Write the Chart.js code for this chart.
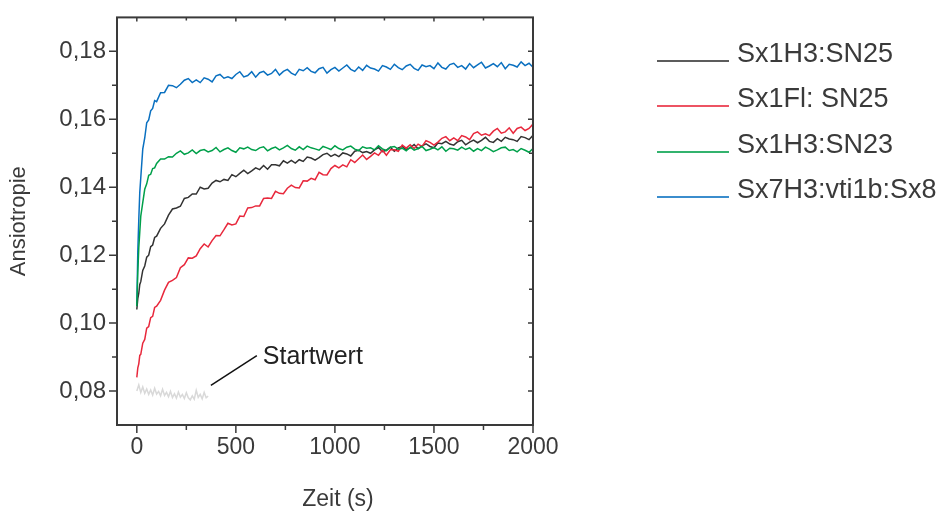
<!DOCTYPE html>
<html>
<head>
<meta charset="utf-8">
<script src="https://cdn.jsdelivr.net/npm/chart.js@4.4.1/dist/chart.umd.min.js"></script>
<style>
  body { margin: 0; background: #fff; }
  #wrap { position: relative; width: 940px; height: 513px; font-family: 'Liberation Sans', Arial, sans-serif; color: #3a3a3a; }
  #ghgChart { position: absolute; left: 0; top: 0; }
  .leg { position: absolute; left: 0; height: 30px; }
  .leg .ln { position: absolute; left: 657px; width: 72px; height: 2px; opacity: 0.8; }
  .leg .tx { position: absolute; left: 737px; top: 0; font-size: 27px; line-height: 27px; white-space: nowrap; }
  #xTitle { position: absolute; left: 338px; top: 487px; transform: translateX(-50%); font-size: 23px; line-height: 23px; white-space: nowrap; }
</style>
</head>
<body>
<div id="wrap">
  <canvas id="ghgChart" width="940" height="513"></canvas>
  <div id="legend"></div>
  <div id="xTitle">Zeit (s)</div>
</div>
<script>
// time axis (s)
const times = [0, 5, 10, 15, 20, 30, 40, 50, 60, 70, 80, 90, 100,
    120, 140, 160, 180, 200, 220, 240, 260, 280, 300,
    320, 340, 360, 380, 400,
    420, 440, 460, 480, 500, 520, 540, 560, 580, 600,
    620, 640, 660, 680, 700, 720, 740, 760, 780, 800,
    820, 840, 860, 880, 900, 920, 940, 960, 980, 1000,
    1020, 1040, 1060, 1080, 1100, 1120, 1140, 1160, 1180, 1200, 1220, 1240, 1260, 1280, 1300,
    1320, 1340, 1360, 1380, 1400, 1420, 1440, 1460, 1480, 1500,
    1520, 1540, 1560, 1580, 1600, 1620, 1640, 1660, 1680, 1700, 1720, 1740, 1760, 1780, 1800,
    1820, 1840, 1860, 1880, 1900, 1920, 1940, 1960, 1980, 2000];

// Sx1H3:SN25 (black)
const sn25 = [0.1040, 0.1072, 0.1088, 0.1114, 0.1122, 0.1155, 0.1168, 0.1194, 0.1200, 0.1225, 0.1230, 0.1252, 0.1256,
    0.1279, 0.1292, 0.1318, 0.1336, 0.1339, 0.1344, 0.1367, 0.1370, 0.1380, 0.1380,
    0.1400, 0.1395, 0.1397, 0.1412, 0.1420,
    0.1416, 0.1423, 0.1420, 0.1437, 0.1431, 0.1441, 0.1450, 0.1440, 0.1448, 0.1457,
    0.1452, 0.1464, 0.1453, 0.1466, 0.1466, 0.1463, 0.1478, 0.1471, 0.1479, 0.1471,
    0.1481, 0.1476, 0.1489, 0.1486, 0.1480, 0.1487, 0.1496, 0.1500, 0.1491, 0.1497,
    0.1490, 0.1501, 0.1498, 0.1492, 0.1506, 0.1509, 0.1502, 0.1505, 0.1500, 0.1510, 0.1517, 0.1505, 0.1509, 0.1518, 0.1506,
    0.1516, 0.1520, 0.1511, 0.1516, 0.1526, 0.1513, 0.1522, 0.1528, 0.1520, 0.1516,
    0.1530, 0.1528, 0.1535, 0.1527, 0.1524, 0.1534, 0.1538, 0.1525, 0.1533, 0.1539, 0.1531, 0.1538, 0.1547, 0.1535, 0.1532,
    0.1543, 0.1535, 0.1547, 0.1542, 0.1540, 0.1535, 0.1549, 0.1546, 0.1540, 0.1553];

// Sx1Fl: SN25 (red)
const flSn25 = [0.0840, 0.0868, 0.0880, 0.0905, 0.0908, 0.0941, 0.0952, 0.0985, 0.0990, 0.1016, 0.1020, 0.1046, 0.1050,
    0.1067, 0.1097, 0.1120, 0.1126, 0.1134, 0.1163, 0.1172, 0.1192, 0.1191, 0.1198,
    0.1219, 0.1233, 0.1224, 0.1243, 0.1258,
    0.1257, 0.1275, 0.1294, 0.1289, 0.1292, 0.1315, 0.1314, 0.1339, 0.1340, 0.1345,
    0.1345, 0.1367, 0.1368, 0.1367, 0.1388, 0.1382, 0.1381, 0.1397, 0.1406, 0.1399,
    0.1398, 0.1419, 0.1418, 0.1426, 0.1422, 0.1444, 0.1437, 0.1436, 0.1455, 0.1464,
    0.1457, 0.1466, 0.1460, 0.1481, 0.1473, 0.1484, 0.1495, 0.1482, 0.1491, 0.1501, 0.1494, 0.1509, 0.1494, 0.1510, 0.1510,
    0.1506, 0.1524, 0.1515, 0.1525, 0.1514, 0.1527, 0.1520, 0.1537, 0.1532, 0.1524,
    0.1533, 0.1544, 0.1549, 0.1537, 0.1545, 0.1537, 0.1552, 0.1548, 0.1540, 0.1558, 0.1563, 0.1553, 0.1557, 0.1552, 0.1565,
    0.1573, 0.1559, 0.1563, 0.1575, 0.1559, 0.1573, 0.1577, 0.1567, 0.1573, 0.1586];

// Sx1H3:SN23 (green)
const sn23 = [0.1050, 0.1148, 0.1222, 0.1268, 0.1315, 0.1355, 0.1394, 0.1410, 0.1435, 0.1438, 0.1455, 0.1457, 0.1470,
    0.1483, 0.1483, 0.1490, 0.1489, 0.1500, 0.1507, 0.1497, 0.1501, 0.1510, 0.1499,
    0.1508, 0.1511, 0.1504, 0.1508, 0.1517,
    0.1504, 0.1511, 0.1516, 0.1508, 0.1503, 0.1516, 0.1513, 0.1518, 0.1511, 0.1508,
    0.1516, 0.1519, 0.1507, 0.1514, 0.1518, 0.1510, 0.1516, 0.1523, 0.1514, 0.1509,
    0.1519, 0.1511, 0.1521, 0.1516, 0.1513, 0.1509, 0.1520, 0.1516, 0.1511, 0.1522,
    0.1514, 0.1510, 0.1518, 0.1521, 0.1512, 0.1508, 0.1519, 0.1515, 0.1516, 0.1510, 0.1522, 0.1513, 0.1508, 0.1518, 0.1520,
    0.1512, 0.1515, 0.1507, 0.1518, 0.1509, 0.1514, 0.1520, 0.1508, 0.1512, 0.1517,
    0.1510, 0.1519, 0.1506, 0.1515, 0.1513, 0.1509, 0.1518, 0.1511, 0.1516, 0.1506, 0.1514, 0.1508, 0.1518, 0.1512, 0.1505,
    0.1510, 0.1516, 0.1518, 0.1508, 0.1511, 0.1504, 0.1514, 0.1509, 0.1503, 0.1514];

// Sx7H3:vti1b:Sx8 (blue)
const sx8 = [0.1050, 0.1210, 0.1305, 0.1385, 0.1428, 0.1512, 0.1545, 0.1590, 0.1598, 0.1625, 0.1632, 0.1655, 0.1652,
    0.1678, 0.1679, 0.1700, 0.1699, 0.1693, 0.1703, 0.1715, 0.1720, 0.1708, 0.1716,
    0.1708, 0.1722, 0.1718, 0.1710, 0.1728,
    0.1732, 0.1721, 0.1725, 0.1720, 0.1732, 0.1740, 0.1725, 0.1729, 0.1740, 0.1724,
    0.1737, 0.1741, 0.1730, 0.1735, 0.1747, 0.1730, 0.1741, 0.1747, 0.1736, 0.1730,
    0.1747, 0.1743, 0.1752, 0.1741, 0.1737, 0.1749, 0.1753, 0.1736, 0.1746, 0.1753,
    0.1742, 0.1751, 0.1760, 0.1747, 0.1741, 0.1754, 0.1744, 0.1759, 0.1751, 0.1748, 0.1742, 0.1758, 0.1754, 0.1747, 0.1762,
    0.1752, 0.1746, 0.1757, 0.1762, 0.1750, 0.1744, 0.1760, 0.1755, 0.1758, 0.1749,
    0.1766, 0.1753, 0.1748, 0.1761, 0.1765, 0.1753, 0.1758, 0.1748, 0.1764, 0.1752, 0.1760, 0.1768, 0.1751, 0.1757, 0.1764,
    0.1755, 0.1767, 0.1749, 0.1762, 0.1759, 0.1754, 0.1769, 0.1758, 0.1765, 0.1753];

// Startwert (grey), only the first ~6 minutes
const startTimes = [0, 10, 20, 30, 40, 50, 60, 70, 80, 90, 100, 110, 120, 130, 140, 150, 160, 170, 180,
    190, 200, 210, 220, 230, 240, 250, 260, 270, 280, 290, 300, 310, 320, 330, 340, 350, 360];
const startwert = [0.0800, 0.0818, 0.0796, 0.0812, 0.0793, 0.0806, 0.0790, 0.0803, 0.0788, 0.0808,
    0.0791, 0.0799, 0.0786, 0.0805, 0.0787, 0.0796, 0.0783, 0.0799, 0.0781, 0.0792,
    0.0779, 0.0797, 0.0782, 0.0790, 0.0778, 0.0795, 0.0780, 0.0774, 0.0786, 0.0776,
    0.0802, 0.0781, 0.0790, 0.0777, 0.0796, 0.0780, 0.0785];

const seriesNames = ['Sx1H3:SN25', 'Sx1Fl: SN25', 'Sx1H3:SN23', 'Sx7H3:vti1b:Sx8'];
const seriesColors = ['#333333', '#e8283c', '#00a04a', '#0a70c0'];
const startColor = '#d9d9d9';

const xTicks = [0, 500, 1000, 1500, 2000];
const xMinorTicks = [250, 750, 1250, 1750];
const yTicks = [0.08, 0.10, 0.12, 0.14, 0.16, 0.18];
const yTickLabels = ['0,08', '0,10', '0,12', '0,14', '0,16', '0,18'];
const yMinorTicks = [0.09, 0.11, 0.13, 0.15, 0.17];

// annotation anchors in data units
const noteFrom = { x: 374, y: 0.0817 };
const noteTo = { x: 606, y: 0.0904 };
const noteText = { x: 636, y: 0.0870, text: 'Startwert' };

const axisColor = '#3a3a3a';
const fontFamily = "'Liberation Sans', Arial, sans-serif";

function toPoints(xs, ys) {
    return ys.map((v, i) => ({ x: xs[i], y: v }));
}

const allSeries = [sn25, flSn25, sn23, sx8];
const drawOrder = [2, 1, 0, 3];

const datasets = allSeries.map((vals, i) => ({
    label: seriesNames[i],
    data: toPoints(times, vals),
    borderColor: seriesColors[i],
    borderWidth: 1.5,
    pointRadius: 0,
    fill: false,
    order: drawOrder[i]
}));
datasets.push({
    label: 'Startwert',
    data: toPoints(startTimes, startwert),
    borderColor: startColor,
    borderWidth: 1.5,
    pointRadius: 0,
    fill: false,
    order: 4
});

// frame, inner/outer tick marks and the Startwert note
const framePlugin = {
    id: 'frame',
    afterDraw(chart) {
        const { ctx, chartArea: a } = chart;
        const x = chart.scales.x, y = chart.scales.y;
        ctx.save();
        ctx.strokeStyle = axisColor;
        ctx.lineWidth = 2;
        ctx.strokeRect(a.left, a.top, a.right - a.left, a.bottom - a.top);

        ctx.lineWidth = 1.5;
        ctx.beginPath();
        xTicks.forEach(v => {
            const p = x.getPixelForValue(v);
            ctx.moveTo(p, a.bottom); ctx.lineTo(p, a.bottom + 8);
            ctx.moveTo(p, a.top); ctx.lineTo(p, a.top + 4);
        });
        xMinorTicks.forEach(v => {
            const p = x.getPixelForValue(v);
            ctx.moveTo(p, a.bottom); ctx.lineTo(p, a.bottom + 5);
            ctx.moveTo(p, a.top); ctx.lineTo(p, a.top + 3);
        });
        yTicks.forEach(v => {
            const p = y.getPixelForValue(v);
            ctx.moveTo(a.left - 8, p); ctx.lineTo(a.left, p);
            ctx.moveTo(a.right - 5, p); ctx.lineTo(a.right, p);
        });
        yMinorTicks.forEach(v => {
            const p = y.getPixelForValue(v);
            ctx.moveTo(a.left - 5, p); ctx.lineTo(a.left, p);
            ctx.moveTo(a.right - 4, p); ctx.lineTo(a.right, p);
        });
        ctx.stroke();

        // Startwert pointer
        ctx.strokeStyle = '#111';
        ctx.lineWidth = 1.5;
        ctx.beginPath();
        ctx.moveTo(x.getPixelForValue(noteFrom.x), y.getPixelForValue(noteFrom.y));
        ctx.lineTo(x.getPixelForValue(noteTo.x), y.getPixelForValue(noteTo.y));
        ctx.stroke();
        ctx.fillStyle = '#222';
        ctx.font = '25px ' + fontFamily;
        ctx.textBaseline = 'middle';
        ctx.textAlign = 'left';
        ctx.fillText(noteText.text, x.getPixelForValue(noteText.x), y.getPixelForValue(noteText.y) - 10);
        ctx.restore();
    }
};

const ctx = document.getElementById('ghgChart').getContext('2d');

let chart = new Chart(ctx, {
    type: 'line',
    data: { datasets: datasets },
    options: {
        responsive: false,
        animation: false,
        layout: { padding: { top: 10, right: 407, left: 0, bottom: 0 } },
        plugins: {
            legend: { display: false },
            tooltip: { enabled: false }
        },
        elements: { line: { tension: 0 } },
        scales: {
            x: {
                type: 'linear',
                min: -100,
                max: 2000,
                afterFit: s => { s.height = 88; },
                afterBuildTicks: s => { s.ticks = xTicks.map(v => ({ value: v })); },
                grid: { display: true, drawOnChartArea: false, tickLength: 8, tickColor: 'rgba(0,0,0,0)' },
                border: { display: false },
                ticks: {
                    padding: 1,
                    color: axisColor,
                    maxRotation: 0,
                    font: { size: 23, family: fontFamily },
                    callback: v => String(v)
                }
            },
            y: {
                type: 'linear',
                min: 0.07,
                max: 0.19,
                afterFit: s => { s.width = 117; },
                afterBuildTicks: s => { s.ticks = yTicks.map(v => ({ value: v })); },
                grid: { display: true, drawOnChartArea: false, tickLength: 8, tickColor: 'rgba(0,0,0,0)' },
                border: { display: false },
                ticks: {
                    padding: 3,
                    color: axisColor,
                    font: { size: 24, family: fontFamily },
                    callback: (v, i) => yTickLabels[i]
                },
                title: {
                    display: true,
                    text: 'Ansiotropie',
                    color: axisColor,
                    font: { size: 22, family: fontFamily },
                    padding: { top: 6, bottom: 0 }
                }
            }
        }
    },
    plugins: [framePlugin]
});

// legend on the right, built from the series arrays
const legendBox = document.getElementById('legend');
seriesNames.forEach((name, i) => {
    const row = document.createElement('div');
    row.className = 'leg';
    row.style.top = Math.round(40 + i * 45.3) + 'px';
    const ln = document.createElement('span');
    ln.className = 'ln';
    ln.style.background = seriesColors[i];
    ln.style.top = '20px';
    const tx = document.createElement('span');
    tx.className = 'tx';
    tx.textContent = name;
    row.appendChild(ln);
    row.appendChild(tx);
    legendBox.appendChild(row);
});
</script>
</body>
</html>
